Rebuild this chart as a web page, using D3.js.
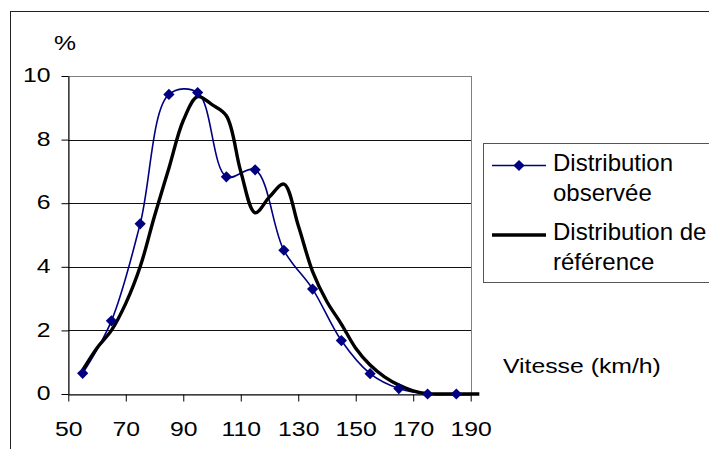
<!DOCTYPE html>
<html>
<head>
<meta charset="utf-8">
<script src="https://cdn.jsdelivr.net/npm/d3@7"></script>
<style>
  body { margin: 0; background: #fff; }
  svg { display: block; font-family: "Liberation Sans", Arial, sans-serif; }
</style>
</head>
<body>
<svg id="chart"></svg>
<script>
// observed distribution, one point per 10 km/h class
let speeds = [55, 65, 75, 85, 95, 105, 115, 125, 135, 145, 155, 165, 175, 185];
let observed = [0.65, 2.3, 5.35, 9.42, 9.48, 6.83, 7.05, 4.52, 3.3, 1.68, 0.64, 0.17, 0, 0];

let refSpeeds = [55, 60, 65, 70, 75, 80, 85, 90, 95, 100, 105, 110, 115, 120, 125, 130,
    135, 140, 145, 150, 155, 160, 165, 170, 175, 180, 185, 190, 193];
let reference = [0.75, 1.45, 2.0, 2.85, 4.0, 5.6, 7.1, 8.6, 9.35, 9.1, 8.75, 7.0, 5.7, 6.2,
    6.6, 5.3, 3.85, 2.9, 2.2, 1.44, 0.91, 0.54, 0.28, 0.1, 0.01, 0, 0, 0, 0];

let xTicks = [50, 70, 90, 110, 130, 150, 170, 190];
let yTicks = [0, 2, 4, 6, 8, 10];
let legendNames = [["Distribution", "observée"], ["Distribution de", "référence"]];

let width = 709;
let height = 449;
let stretch = 1.18;   // axis texts look a bit wide in the original

let svg = d3.select("#chart")
    .attr("width", width)
    .attr("height", height);

// chart border (runs off the right and bottom edges)
svg.append("rect")
    .attr("x", 10.5).attr("y", 11.5)
    .attr("width", 720).attr("height", 460)
    .attr("fill", "none")
    .attr("stroke", "#222");

let scaleX = d3.scaleLinear().domain([50, 190]).range([68.3, 470.7]);
let scaleY = d3.scaleLinear().domain([0, 10]).range([394, 76]);

// plot area frame
svg.append("rect")
    .attr("x", Math.round(scaleX(50)) + 0.5)
    .attr("y", Math.round(scaleY(10)) + 0.5)
    .attr("width", Math.round(scaleX(190)) - Math.round(scaleX(50)))
    .attr("height", Math.round(scaleY(0)) - Math.round(scaleY(10)))
    .attr("fill", "none")
    .attr("stroke", "#808080");

// gridlines
svg.append("g")
    .selectAll("line")
    .data(yTicks.filter(d => d > 0 && d < 10))
    .join("line")
    .attr("x1", Math.round(scaleX(50)))
    .attr("x2", Math.round(scaleX(190)))
    .attr("y1", d => Math.round(scaleY(d)) + 0.5)
    .attr("y2", d => Math.round(scaleY(d)) + 0.5)
    .attr("stroke", "#111");

let axisX = d3.axisBottom(scaleX).tickValues(xTicks).tickSize(7).tickSizeOuter(0);
let axisY = d3.axisLeft(scaleY).tickValues(yTicks).tickSize(7).tickSizeOuter(0);

let gx = svg.append("g")
    .attr("transform", `translate(0, ${Math.round(scaleY(0)) + 0.5})`)
    .call(axisX);
let gy = svg.append("g")
    .attr("transform", `translate(${Math.round(scaleX(50)) + 0.5}, 0)`)
    .call(axisY);

[gx, gy].forEach(g => {
    g.select(".domain").attr("stroke", "#000");
    g.selectAll(".tick line").attr("stroke", "#000");
    g.selectAll(".tick text")
        .attr("fill", "#000")
        .attr("font-size", "21px")
        .attr("font-family", "Liberation Sans, Arial, sans-serif");
});

gx.selectAll(".tick text")
    .attr("y", 42)
    .attr("dy", 0)
    .attr("transform", `scale(${stretch},1)`);

gy.selectAll(".tick text")
    .attr("x", -18 / stretch)
    .attr("dy", "0.27em")
    .attr("transform", `scale(${stretch},1)`);

// axis titles
svg.append("text")
    .attr("transform", `translate(65, 50) scale(${stretch},1)`)
    .attr("text-anchor", "middle")
    .attr("font-size", "21px")
    .text("%");

svg.append("text")
    .attr("transform", `translate(503, 373) scale(${stretch},1)`)
    .attr("font-size", "21px")
    .text("Vitesse (km/h)");

// series
let obsData = speeds.map((s, i) => ({ x: s, y: observed[i] }));
let refData = refSpeeds.map((s, i) => ({ x: s, y: reference[i] }));

let line = d3.line()
    .x(d => scaleX(d.x))
    .y(d => scaleY(d.y))
    .curve(d3.curveCatmullRom.alpha(0.5));

svg.append("path")
    .datum(obsData)
    .attr("d", line)
    .attr("fill", "none")
    .attr("stroke", "#000080")
    .attr("stroke-width", 1.6);

svg.append("path")
    .datum(refData)
    .attr("d", line)
    .attr("fill", "none")
    .attr("stroke", "#000")
    .attr("stroke-width", 3.4)
    .attr("stroke-linejoin", "round");

let diamond = d3.symbol().type(d3.symbolDiamond2).size(80);

svg.append("g")
    .selectAll("path")
    .data(obsData)
    .join("path")
    .attr("d", diamond)
    .attr("transform", d => `translate(${scaleX(d.x)}, ${scaleY(d.y)})`)
    .attr("fill", "#000080");

// legend
let legend = svg.append("g");

legend.append("rect")
    .attr("x", 483.5).attr("y", 143.5)
    .attr("width", 240).attr("height", 139)
    .attr("fill", "#fff")
    .attr("stroke", "#555");

legendNames.forEach((lines, i) => {
    let y0 = 165.5 + i * 69.5;
    legend.append("line")
        .attr("x1", 492).attr("x2", 546)
        .attr("y1", y0).attr("y2", y0)
        .attr("stroke", i == 0 ? "#000080" : "#000")
        .attr("stroke-width", i == 0 ? 1.6 : 3.4);
    if (i == 0) {
        legend.append("path")
            .attr("d", diamond)
            .attr("transform", `translate(519, ${y0})`)
            .attr("fill", "#000080");
    }
    legend.append("text")
        .attr("x", 553)
        .attr("y", y0 + 5)
        .attr("font-size", "24px")
        .selectAll("tspan")
        .data(lines)
        .join("tspan")
        .attr("x", 553)
        .attr("dy", (d, j) => j == 0 ? 0 : 30)
        .text(d => d);
});
</script>
</body>
</html>
